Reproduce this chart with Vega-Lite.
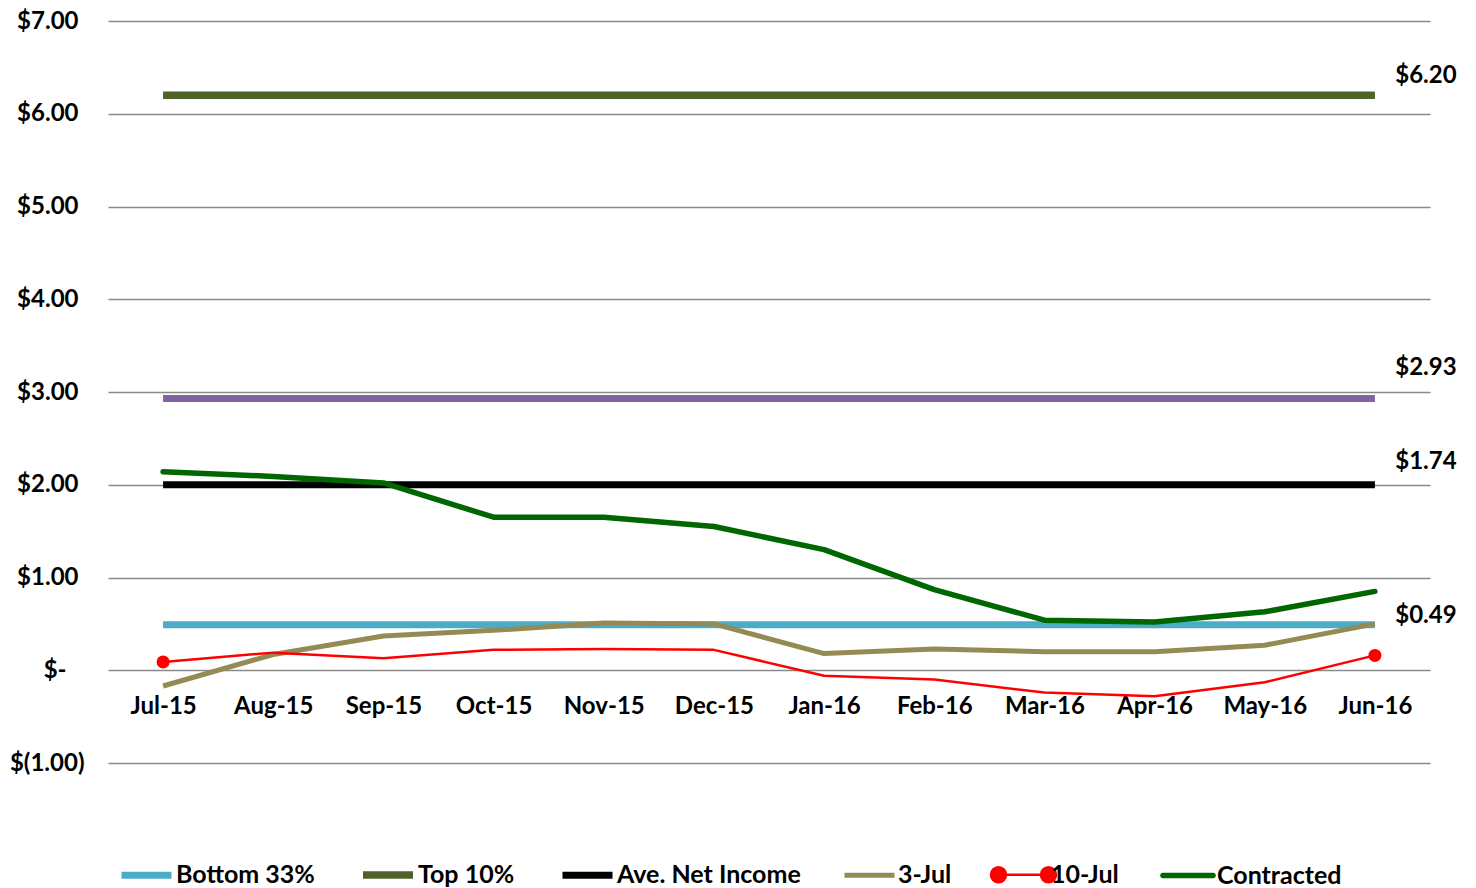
{
  "$schema": "https://vega.github.io/schema/vega-lite/v6.json",
  "autosize": "none",
  "padding": {"left": 108, "top": 21, "right": 46, "bottom": 125},
  "width": 1322,
  "height": 742,
  "background": "white",
  "config": {
    "view": {"stroke": null},
    "font": "Lato",
    "axis": {"labelFont": "Lato", "labelFontWeight": "bold", "labelFontSize": 24, "labelColor": "#000000"},
    "legend": {"labelFont": "Lato", "labelFontWeight": "bold", "labelFontSize": 25, "labelColor": "#000000"}
  },
  "datasets": {
    "series": [
      {"month": "Jul-15", "series": "Bottom 33%", "value": 0.49},
      {"month": "Aug-15", "series": "Bottom 33%", "value": 0.49},
      {"month": "Sep-15", "series": "Bottom 33%", "value": 0.49},
      {"month": "Oct-15", "series": "Bottom 33%", "value": 0.49},
      {"month": "Nov-15", "series": "Bottom 33%", "value": 0.49},
      {"month": "Dec-15", "series": "Bottom 33%", "value": 0.49},
      {"month": "Jan-16", "series": "Bottom 33%", "value": 0.49},
      {"month": "Feb-16", "series": "Bottom 33%", "value": 0.49},
      {"month": "Mar-16", "series": "Bottom 33%", "value": 0.49},
      {"month": "Apr-16", "series": "Bottom 33%", "value": 0.49},
      {"month": "May-16", "series": "Bottom 33%", "value": 0.49},
      {"month": "Jun-16", "series": "Bottom 33%", "value": 0.49},
      {"month": "Jul-15", "series": "Top 10%", "value": 6.2},
      {"month": "Aug-15", "series": "Top 10%", "value": 6.2},
      {"month": "Sep-15", "series": "Top 10%", "value": 6.2},
      {"month": "Oct-15", "series": "Top 10%", "value": 6.2},
      {"month": "Nov-15", "series": "Top 10%", "value": 6.2},
      {"month": "Dec-15", "series": "Top 10%", "value": 6.2},
      {"month": "Jan-16", "series": "Top 10%", "value": 6.2},
      {"month": "Feb-16", "series": "Top 10%", "value": 6.2},
      {"month": "Mar-16", "series": "Top 10%", "value": 6.2},
      {"month": "Apr-16", "series": "Top 10%", "value": 6.2},
      {"month": "May-16", "series": "Top 10%", "value": 6.2},
      {"month": "Jun-16", "series": "Top 10%", "value": 6.2},
      {"month": "Jul-15", "series": "Ave. Net Income", "value": 2.0},
      {"month": "Aug-15", "series": "Ave. Net Income", "value": 2.0},
      {"month": "Sep-15", "series": "Ave. Net Income", "value": 2.0},
      {"month": "Oct-15", "series": "Ave. Net Income", "value": 2.0},
      {"month": "Nov-15", "series": "Ave. Net Income", "value": 2.0},
      {"month": "Dec-15", "series": "Ave. Net Income", "value": 2.0},
      {"month": "Jan-16", "series": "Ave. Net Income", "value": 2.0},
      {"month": "Feb-16", "series": "Ave. Net Income", "value": 2.0},
      {"month": "Mar-16", "series": "Ave. Net Income", "value": 2.0},
      {"month": "Apr-16", "series": "Ave. Net Income", "value": 2.0},
      {"month": "May-16", "series": "Ave. Net Income", "value": 2.0},
      {"month": "Jun-16", "series": "Ave. Net Income", "value": 2.0},
      {"month": "Jul-15", "series": "3-Jul", "value": -0.17},
      {"month": "Aug-15", "series": "3-Jul", "value": 0.17},
      {"month": "Sep-15", "series": "3-Jul", "value": 0.37},
      {"month": "Oct-15", "series": "3-Jul", "value": 0.43},
      {"month": "Nov-15", "series": "3-Jul", "value": 0.51},
      {"month": "Dec-15", "series": "3-Jul", "value": 0.5},
      {"month": "Jan-16", "series": "3-Jul", "value": 0.18},
      {"month": "Feb-16", "series": "3-Jul", "value": 0.23},
      {"month": "Mar-16", "series": "3-Jul", "value": 0.2},
      {"month": "Apr-16", "series": "3-Jul", "value": 0.2},
      {"month": "May-16", "series": "3-Jul", "value": 0.27},
      {"month": "Jun-16", "series": "3-Jul", "value": 0.5},
      {"month": "Jul-15", "series": "10-Jul", "value": 0.09},
      {"month": "Aug-15", "series": "10-Jul", "value": 0.19},
      {"month": "Sep-15", "series": "10-Jul", "value": 0.13},
      {"month": "Oct-15", "series": "10-Jul", "value": 0.22},
      {"month": "Nov-15", "series": "10-Jul", "value": 0.23},
      {"month": "Dec-15", "series": "10-Jul", "value": 0.22},
      {"month": "Jan-16", "series": "10-Jul", "value": -0.06},
      {"month": "Feb-16", "series": "10-Jul", "value": -0.1},
      {"month": "Mar-16", "series": "10-Jul", "value": -0.24},
      {"month": "Apr-16", "series": "10-Jul", "value": -0.28},
      {"month": "May-16", "series": "10-Jul", "value": -0.13},
      {"month": "Jun-16", "series": "10-Jul", "value": 0.16},
      {"month": "Jul-15", "series": "Contracted", "value": 2.14},
      {"month": "Aug-15", "series": "Contracted", "value": 2.09},
      {"month": "Sep-15", "series": "Contracted", "value": 2.02},
      {"month": "Oct-15", "series": "Contracted", "value": 1.65},
      {"month": "Nov-15", "series": "Contracted", "value": 1.65},
      {"month": "Dec-15", "series": "Contracted", "value": 1.55},
      {"month": "Jan-16", "series": "Contracted", "value": 1.3},
      {"month": "Feb-16", "series": "Contracted", "value": 0.87},
      {"month": "Mar-16", "series": "Contracted", "value": 0.54},
      {"month": "Apr-16", "series": "Contracted", "value": 0.52},
      {"month": "May-16", "series": "Contracted", "value": 0.63},
      {"month": "Jun-16", "series": "Contracted", "value": 0.85}
    ],
    "purple": [
      {"month": "Jul-15", "value": 2.93},
      {"month": "Aug-15", "value": 2.93},
      {"month": "Sep-15", "value": 2.93},
      {"month": "Oct-15", "value": 2.93},
      {"month": "Nov-15", "value": 2.93},
      {"month": "Dec-15", "value": 2.93},
      {"month": "Jan-16", "value": 2.93},
      {"month": "Feb-16", "value": 2.93},
      {"month": "Mar-16", "value": 2.93},
      {"month": "Apr-16", "value": 2.93},
      {"month": "May-16", "value": 2.93},
      {"month": "Jun-16", "value": 2.93}
    ],
    "labels": [
      {"month": "Jun-16", "pos": 6.43, "text": "$6.20"},
      {"month": "Jun-16", "pos": 3.29, "text": "$2.93"},
      {"month": "Jun-16", "pos": 2.27, "text": "$1.74"},
      {"month": "Jun-16", "pos": 0.61, "text": "$0.49"}
    ]
  },
  "layer": [
    {
      "data": {"name": "purple"},
      "mark": {"type": "line", "color": "#8064A2", "strokeWidth": 7, "strokeCap": "butt"},
      "encoding": {
        "x": {
          "field": "month", "type": "ordinal", "sort": null,
          "scale": {"type": "point", "padding": 0.5},
          "axis": {"title": null, "domain": false, "ticks": false, "grid": false, "labelAngle": 0, "offset": -92.75, "labelPadding": 24, "labelBaseline": "top"}
        },
        "y": {
          "field": "value", "type": "quantitative",
          "scale": {"domain": [-1, 7], "nice": false, "zero": false},
          "axis": {
            "title": null, "domain": false, "ticks": false,
            "values": [-1, 0, 1, 2, 3, 4, 5, 6, 7],
            "grid": true, "gridColor": "#8A8A8A", "gridWidth": 1.5,
            "labelPadding": {"condition": [{"test": "datum.value < 0", "value": 24}, {"test": "datum.value == 0", "value": 42}], "value": 30},
            "labelExpr": "datum.value == 0 ? '$-' : (datum.value < 0 ? '$(' + format(-datum.value, '.2f') + ')' : '$' + format(datum.value, '.2f'))"
          }
        }
      }
    },
    {
      "data": {"name": "series"},
      "transform": [{"filter": "datum.series != 'Contracted'"}],
      "mark": {"type": "line", "strokeCap": "butt", "strokeJoin": "round"},
      "encoding": {
        "x": {"field": "month", "type": "ordinal", "sort": null},
        "y": {"field": "value", "type": "quantitative"},
        "color": {
          "field": "series", "type": "nominal",
          "scale": {
            "domain": ["Bottom 33%", "Top 10%", "Ave. Net Income", "3-Jul", "10-Jul", "Contracted"],
            "range": ["#4BACC6", "#4F6228", "#000000", "#948A54", "#FF0000", "#006600"]
          },
          "legend": {
            "title": null,
            "orient": "none",
            "legendX": 10,
            "legendY": 825,
            "direction": "horizontal",
            "padding": 0,
            "symbolType": "stroke",
            "symbolSize": 2500,
            "symbolStrokeWidth": 7,
            "labelOffset": 1,
            "labelLimit": 400,
            "columnPadding": 33,
            "encode": {
              "symbols": {
                "update": {
                  "shape": {"signal": "datum.value === '10-Jul' ? 'M-1,0L1,0M-1.3,0a0.3,0.3 0 1,0 0.6,0a0.3,0.3 0 1,0 -0.6,0M0.7,0a0.3,0.3 0 1,0 0.6,0a0.3,0.3 0 1,0 -0.6,0' : 'stroke'"},
                  "stroke": {"signal": "scale('color', datum.value)"},
                  "fill": {"signal": "datum.value === '10-Jul' ? '#FF0000' : 'transparent'"},
                  "strokeWidth": {"signal": "datum.value === '10-Jul' ? 2.5 : (datum.value === 'Contracted' ? 5.5 : (datum.value === '3-Jul' ? 5 : 7))"},
                  "strokeCap": {"signal": "datum.value === 'Contracted' ? 'round' : 'butt'"},
                  "opacity": {"value": 1}
                }
              }
            }
          }
        },
        "strokeWidth": {
          "field": "series", "type": "nominal", "legend": null,
          "scale": {
            "type": "ordinal",
            "domain": ["Bottom 33%", "Top 10%", "Ave. Net Income", "3-Jul", "10-Jul", "Contracted"],
            "range": [7, 7.5, 7, 5, 2.5, 5.5]
          }
        }
      }
    },
    {
      "data": {"name": "series"},
      "transform": [{"filter": "datum.series == 'Contracted'"}],
      "mark": {"type": "line", "strokeCap": "round", "strokeJoin": "round", "strokeWidth": 5.5},
      "encoding": {
        "x": {"field": "month", "type": "ordinal", "sort": null},
        "y": {"field": "value", "type": "quantitative"},
        "color": {"field": "series", "type": "nominal"}
      }
    },
    {
      "data": {"name": "series"},
      "transform": [{"filter": "datum.series == '10-Jul' && (datum.month == 'Jul-15' || datum.month == 'Jun-16')"}],
      "mark": {"type": "circle", "color": "#FF0000", "opacity": 1, "size": 170},
      "encoding": {
        "x": {"field": "month", "type": "ordinal", "sort": null},
        "y": {"field": "value", "type": "quantitative"}
      }
    },
    {
      "data": {"name": "labels"},
      "mark": {"type": "text", "font": "Lato", "fontWeight": "bold", "fontSize": 24, "color": "#000000", "align": "center", "baseline": "middle", "dx": 51, "dy": 2.5},
      "encoding": {
        "x": {"field": "month", "type": "ordinal", "sort": null},
        "y": {"field": "pos", "type": "quantitative"},
        "text": {"field": "text"}
      }
    }
  ]
}
